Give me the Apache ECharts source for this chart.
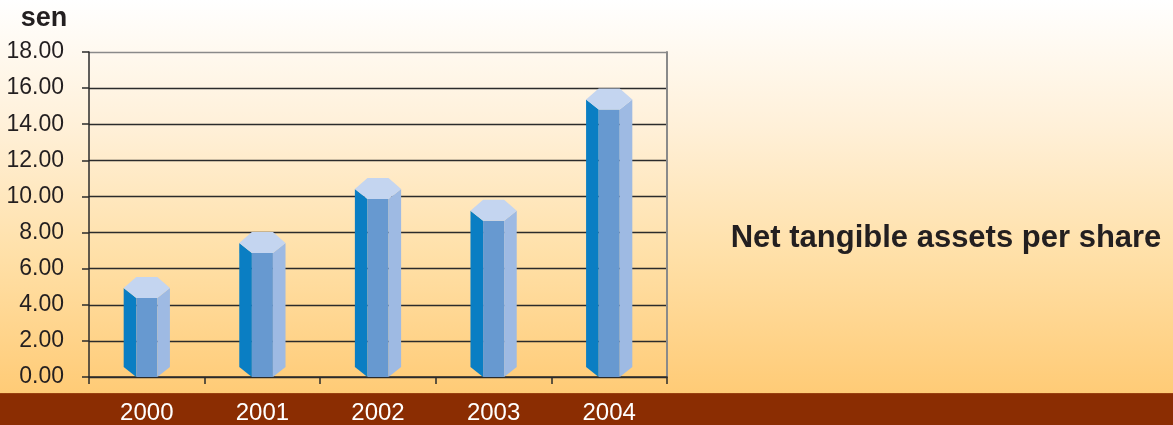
<!DOCTYPE html>
<html>
<head>
<meta charset="utf-8">
<script src="https://cdn.jsdelivr.net/npm/echarts@6/dist/echarts.min.js"></script>
<style>
html,body{margin:0;padding:0;}
#chart{width:1173px;height:425px;}
</style>
</head>
<body>
<div id="chart"></div>
<script>
const categories = ['2000', '2001', '2002', '2003', '2004'];
const values = [4.93, 7.42, 10.41, 9.21, 15.37];
const unitLabel = 'sen';
const chartTitle = 'Net tangible assets per share';

const chart = echarts.init(document.getElementById('chart'), null, {renderer: 'canvas'});

const colors = {
  left: '#0A7EC3',
  front: '#6799D0',
  right: '#9EBAE3',
  top: '#C4D5F0'
};

function renderHexBar(params, api) {
  const idx = api.value(0);
  const val = api.value(1);
  const top = api.coord([idx, val]);
  const base = api.coord([idx, 0]);
  const bw = api.size([1, 0])[0];
  const cx = top[0];
  const hw = bw * 0.2;
  const fw = bw * 0.091;
  const dBack = 11;
  const dFront = 10;
  const yc = top[1];
  const y0 = base[1];
  const yS = y0 - dFront;
  const children = [
    {type: 'polygon', shape: {points: [[cx - hw, yc], [cx - fw, yc + dFront], [cx - fw, y0], [cx - hw, yS]]}, style: {fill: colors.left}},
    {type: 'polygon', shape: {points: [[cx - fw, yc + dFront], [cx + fw, yc + dFront], [cx + fw, y0], [cx - fw, y0]]}, style: {fill: colors.front}},
    {type: 'polygon', shape: {points: [[cx + fw, yc + dFront], [cx + hw, yc], [cx + hw, yS], [cx + fw, y0]]}, style: {fill: colors.right}},
    {type: 'polygon', shape: {points: [[cx - hw, yc], [cx - fw, yc - dBack], [cx + fw, yc - dBack], [cx + hw, yc], [cx + fw, yc + dFront], [cx - fw, yc + dFront]]}, style: {fill: colors.top}}
  ];
  return {type: 'group', children: children};
}

const gridColors = ['#2b2b2b','#2b2b2b','#2b2b2b','#2b2b2b','#2b2b2b','#2b2b2b','#2b2b2b','#2b2b2b','#2b2b2b','#8a8a8a'];

chart.setOption({
  animation: false,
  backgroundColor: {
    type: 'linear', x: 0, y: 0, x2: 0, y2: 1,
    colorStops: [
      {offset: 0, color: '#FFFFFF'},
      {offset: 0.3, color: '#FFF0D8'},
      {offset: 0.6, color: '#FFE0A8'},
      {offset: 0.925, color: '#FFCB76'},
      {offset: 0.926, color: '#8B2D02'},
      {offset: 1, color: '#8B2D02'}
    ]
  },
  title: {
    text: chartTitle,
    left: 941,
    top: 218,
    textAlign: 'center',
    textStyle: {fontFamily: 'Liberation Sans, Arial, sans-serif', fontWeight: 'bold', fontSize: 31, color: '#231F20'}
  },
  grid: {left: 89, right: 506, top: 52, bottom: 48, containLabel: false},
  xAxis: {
    type: 'category',
    data: categories,
    boundaryGap: true,
    axisLine: {show: true, lineStyle: {color: '#2b2b2b', width: 1.5}},
    axisTick: {show: true, alignWithLabel: false, length: 7, lineStyle: {color: '#2b2b2b', width: 1.5}},
    axisLabel: {color: '#FFFFFF', fontSize: 24, fontFamily: 'Liberation Sans, Arial, sans-serif', margin: 24}
  },
  yAxis: [{
    type: 'value',
    min: 0, max: 18, interval: 2,
    name: unitLabel,
    nameLocation: 'end',
    nameGap: 20,
    nameTextStyle: {fontFamily: 'Liberation Sans, Arial, sans-serif', fontWeight: 'bold', fontSize: 27, color: '#231F20', align: 'center', padding: [0, 90, 0, 0]},
    axisLine: {show: true, lineStyle: {color: '#2b2b2b', width: 1.5}},
    axisTick: {show: true, length: 7, lineStyle: {color: '#2b2b2b', width: 1.5}},
    axisLabel: {color: '#231F20', fontSize: 23, fontFamily: 'Liberation Sans, Arial, sans-serif', margin: 25, formatter: v => v.toFixed(2)},
    splitLine: {show: true, lineStyle: {color: gridColors, width: 1.3}}
  }, {
    type: 'value',
    position: 'right',
    min: 0, max: 18, interval: 2,
    axisLine: {show: true, lineStyle: {color: '#8a8a8a', width: 2}},
    axisTick: {show: false},
    axisLabel: {show: false},
    splitLine: {show: false}
  }],
  series: [{
    type: 'custom',
    renderItem: renderHexBar,
    data: values.map((v, i) => [i, v]),
    encode: {x: 0, y: 1}
  }]
});
</script>
</body>
</html>
